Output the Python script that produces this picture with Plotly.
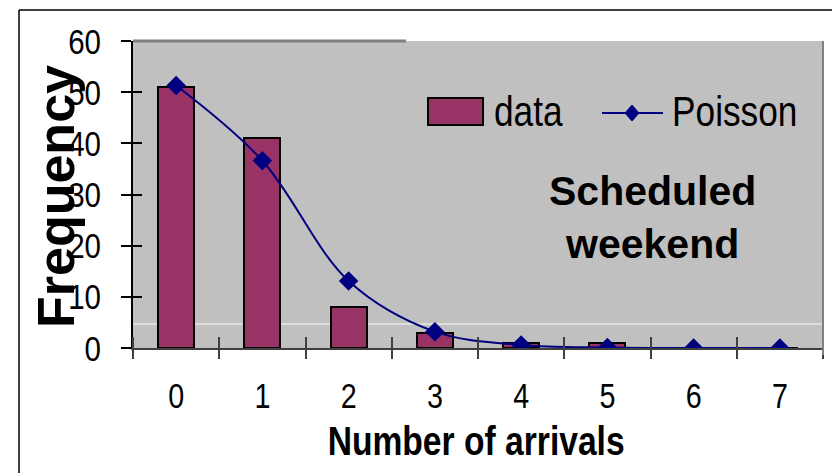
import plotly.graph_objects as go

# ---- data ----
arrivals = ["0", "1", "2", "3", "4", "5", "6", "7"]
data_freq = [51, 41, 8, 3, 1, 1, 0, 0]
poisson_freq = [51.3, 36.6, 13.1, 3.2, 0.6, 0.1, 0.0, 0.0]
y_ticks = [0, 10, 20, 30, 40, 50, 60]

W, H = 832, 473
L, R, T, B = 133, 823, 41, 348  # plot area in pixels


def px(xp):
    return (xp - L) / (R - L)


def py(yp):
    return (B - yp) / (B - T)


idx = list(range(len(arrivals)))
bounds = [i - 0.5 for i in range(len(arrivals) + 1)]

SANS = "Liberation Sans, Arial, sans-serif"

fig = go.Figure()
fig.add_bar(
    x=idx, y=data_freq, name="data", width=0.42,
    marker=dict(color="#993366", line=dict(color="black", width=2)),
    xaxis="x", yaxis="y", showlegend=False,
)
fig.add_scatter(
    x=idx, y=poisson_freq, name="Poisson", mode="lines+markers",
    line=dict(color="#000080", width=2, shape="spline", smoothing=1),
    marker=dict(symbol="diamond", size=15, color="#000080"),
    xaxis="x2", yaxis="y2", showlegend=False,
)

shapes = [
    # outer frame (top and left)
    dict(type="line", xref="paper", yref="paper", x0=px(19), x1=px(840), y0=py(10), y1=py(10),
         line=dict(color="black", width=1.5)),
    dict(type="line", xref="paper", yref="paper", x0=px(19), x1=px(19), y0=py(10), y1=py(480),
         line=dict(color="black", width=1.5)),
    # partial top border of plot area
    dict(type="line", xref="paper", yref="paper", x0=0, x1=px(406), y0=1, y1=1,
         line=dict(color="#808080", width=3)),
    # right border of plot area
    dict(type="line", xref="paper", yref="paper", x0=1, x1=1, y0=py(355), y1=1,
         line=dict(color="#808080", width=2)),
    # stray white line
    dict(type="line", xref="paper", yref="paper", x0=0, x1=1, y0=py(324), y1=py(324),
         line=dict(color="white", width=1), layer="below"),
    # legend: data swatch
    dict(type="rect", xref="paper", yref="paper", x0=px(428), x1=px(483), y0=py(125), y1=py(98),
         fillcolor="#993366", line=dict(color="black", width=2)),
    # legend: Poisson line
    dict(type="line", xref="paper", yref="paper", x0=px(602), x1=px(663), y0=py(113), y1=py(113),
         line=dict(color="#000080", width=2)),
    dict(type="path", xref="paper", yref="paper",
         path=f"M {px(632-7)},{py(113)} L {px(632)},{py(113-8)} L {px(632+7)},{py(113)} L {px(632)},{py(113+8)} Z",
         fillcolor="#000080", line=dict(color="#000080", width=1)),
]

annotations = [
    dict(text="data", xref="paper", yref="paper", x=px(492), y=py(111), xanchor="left", yanchor="middle",
         showarrow=False, font=dict(family=SANS, size=43, color="black")),
    dict(text="Poisson", xref="paper", yref="paper", x=px(670), y=py(111), xanchor="left", yanchor="middle",
         showarrow=False, font=dict(family=SANS, size=43, color="black")),
    dict(text="<b>Scheduled</b><br><b>weekend</b>", xref="paper", yref="paper", x=px(652), y=py(217),
         xanchor="center", yanchor="middle", showarrow=False, align="center",
         font=dict(family=SANS, size=41, color="black")),
    # axis titles
    dict(text="<b>Frequency</b>", xref="paper", yref="paper", x=px(56), y=py(197), textangle=-90,
         xanchor="center", yanchor="middle", showarrow=False,
         font=dict(family=SANS, size=52, color="black")),
    dict(text="<b>Number of arrivals</b>", xref="paper", yref="paper", x=px(476), y=py(441),
         xanchor="center", yanchor="middle", showarrow=False, borderpad=0,
         font=dict(family=SANS, size=41, color="black")),
]

fig.update_layout(
    width=W, height=H,
    margin=dict(l=L, r=W - R, t=T, b=H - B, autoexpand=False),
    paper_bgcolor="white", plot_bgcolor="#C0C0C0",
    showlegend=False,
    bargap=0,
    shapes=shapes, annotations=annotations,
    xaxis=dict(
        range=[-0.5, 7.5], tickmode="array", tickvals=bounds, ticktext=[""] * len(bounds),
        ticks="outside", ticklen=9, tickwidth=1.5, tickcolor="#404040",
        showline=True, linecolor="#404040", linewidth=2,
        showgrid=False, zeroline=False, fixedrange=True,
    ),
    xaxis2=dict(
        overlaying="x", anchor="y", range=[-0.5, 7.5], tickmode="array", tickvals=idx, ticktext=arrivals,
        ticks="", ticklabelstandoff=24, showline=False, showgrid=False, zeroline=False,
        tickfont=dict(family=SANS, size=35, color="black"),
        minor=dict(tickmode="array", tickvals=bounds, ticks="inside", ticklen=11, tickwidth=1.5,
                   tickcolor="#404040", showgrid=False),
    ),
    yaxis=dict(
        range=[0, 60], tickmode="array", tickvals=y_ticks,
        ticks="outside", ticklen=10, tickwidth=1.5, tickcolor="black",
        showline=True, linecolor="black", linewidth=1.5,
        showgrid=False, zeroline=False,
        tickfont=dict(family=SANS, size=36, color="black"), ticklabelstandoff=13,
    ),
    yaxis2=dict(
        overlaying="y", anchor="x", side="left", range=[0, 60], tickmode="array", tickvals=y_ticks,
        ticks="inside", ticklen=9, tickwidth=1.5, tickcolor="black",
        showticklabels=False, showline=False, showgrid=False, zeroline=False,
    ),
)

# Remove the page margin and narrow the (Arial Narrow-like) texts horizontally.
post = """
document.body.style.margin = '0';
function sq(nodes, s, mode) {
  nodes.forEach(function (t) {
    var b = t.getBBox();
    var cx = mode === 'left' ? b.x : (mode === 'right' ? b.x + b.width : b.x + b.width / 2);
    var tr = t.getAttribute('transform') || '';
    t.setAttribute('transform', tr + ' translate(' + cx + ',0) scale(' + s + ',1) translate(' + (-cx) + ',0)');
  });
}
var S = 0.82;
sq(Array.from(document.querySelectorAll('.ytick text')), S, 'right');
sq(Array.from(document.querySelectorAll('.x2tick text, .xtick text')), S, 'center');
var anns = Array.from(document.querySelectorAll('text.annotation-text'));
sq(anns.filter(function (t) { return t.textContent === 'data' || t.textContent === 'Poisson'; }), S, 'left');
sq(anns.filter(function (t) { return t.textContent === 'Number of arrivals'; }), S, 'center');
"""

fig.write_html("out.html", post_script=post, config={"displayModeBar": False})
